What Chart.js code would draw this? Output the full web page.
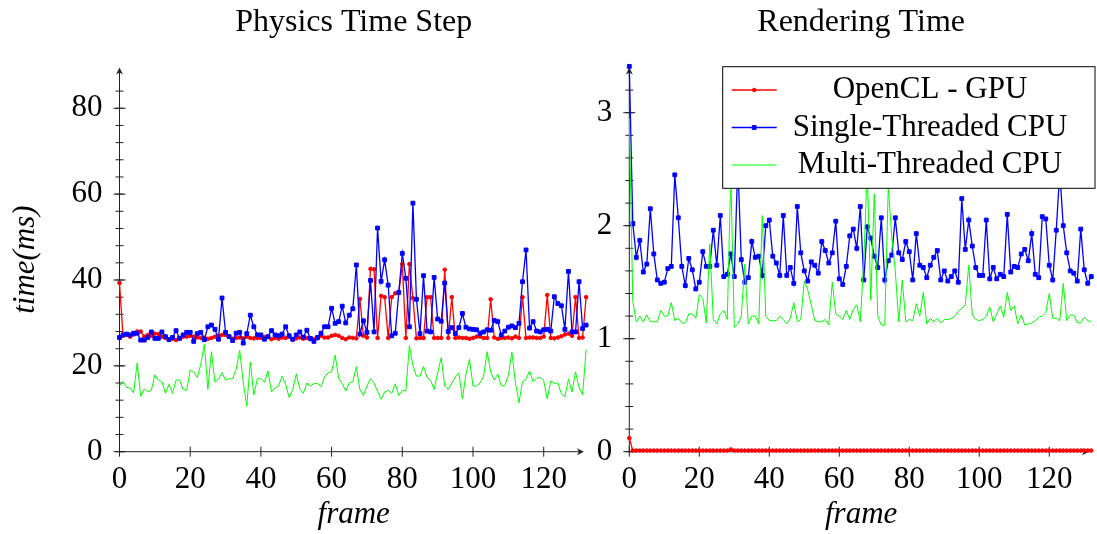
<!DOCTYPE html>
<html>
<head>
<meta charset="utf-8">
<script src="https://cdn.jsdelivr.net/npm/chart.js@4.4.0/dist/chart.umd.min.js"></script>
<style>
	html, body { margin: 0; padding: 0; background: #fff; overflow: hidden; }
	#wrap { position: relative; width: 1097px; height: 534px; overflow: hidden; }
	.box { position: absolute; top: 0; }
	#physicsBox { left: 0; }
	#renderBox { left: 590px; }
</style>
</head>
<body>
<div id="wrap">
	<div class="box" id="physicsBox"><canvas id="physicsChart" width="600" height="534"></canvas></div>
	<div class="box" id="renderBox"><canvas id="renderChart" width="508" height="534"></canvas></div>
</div>
<script>
"use strict";

// tick labels
const frameTicks = [0, 20, 40, 60, 80, 100, 120];
const physicsTicks = [0, 20, 40, 60, 80];
const renderTicks = [0, 1, 2, 3];

const seriesNames = ["OpenCL - GPU", "Single-Threaded CPU", "Multi-Threaded CPU"];

// Physics Time Step (ms), one value per frame 0..132
const physicsGpu = [
	39.3, 27.0, 27.2, 26.8, 27.3, 28.0, 28.0, 26.8, 27.2, 27.0, 27.5, 27.4, 26.8, 26.5, 26.2, 26.3, 26.0, 26.5, 26.8, 26.8,
	27.0, 26.8, 26.6, 26.5, 26.6, 26.3, 26.5, 26.8, 27.0, 27.2, 27.2, 26.8, 26.3, 26.5, 26.6, 26.4, 26.8, 26.5, 26.4, 26.5,
	26.5, 26.7, 26.8, 26.2, 26.5, 26.3, 26.6, 26.5, 26.8, 26.1, 26.4, 26.6, 26.3, 26.5, 26.2, 26.2, 26.4, 27.0, 26.6, 26.6,
	27.0, 27.2, 27.0, 26.5, 26.2, 26.6, 26.5, 26.4, 35.6, 27.0, 26.6, 42.6, 42.5, 26.5, 36.3, 36.0, 26.5, 36.0, 36.9, 37.0,
	43.7, 26.5, 43.7, 35.8, 26.4, 26.5, 26.5, 36.0, 36.0, 26.5, 26.5, 26.5, 42.4, 26.5, 36.0, 26.5, 26.6, 26.5, 26.5, 26.3,
	26.5, 26.8, 26.8, 26.5, 26.5, 35.5, 26.6, 26.3, 26.5, 26.5, 26.6, 26.4, 26.8, 26.5, 36.0, 26.5, 26.6, 26.6, 26.5, 26.5,
	26.8, 36.5, 26.5, 26.4, 26.6, 26.9, 27.3, 27.5, 27.0, 36.0, 26.5, 26.6, 36.0
];
const physicsSingle = [
	26.6, 27.2, 27.4, 27.2, 27.6, 27.6, 26.0, 26.0, 26.6, 27.9, 26.4, 26.4, 27.9, 26.8, 26.1, 26.6, 28.2, 26.4, 27.2, 27.8,
	27.8, 25.7, 27.5, 27.8, 26.1, 29.1, 29.5, 28.5, 26.2, 35.8, 27.8, 26.8, 25.9, 27.6, 27.8, 25.3, 27.5, 31.8, 29.1, 27.2,
	27.2, 26.2, 26.8, 28.2, 27.2, 27.0, 27.4, 29.1, 27.0, 26.2, 27.2, 27.9, 26.7, 28.3, 26.4, 25.7, 26.6, 27.6, 29.1, 29.1,
	33.4, 29.9, 30.3, 33.9, 30.0, 31.8, 33.3, 43.5, 27.4, 30.5, 27.8, 39.9, 27.9, 52.1, 39.7, 44.7, 38.8, 27.0, 27.6, 37.1,
	46.2, 40.4, 29.1, 57.9, 35.5, 27.5, 41.0, 28.1, 27.9, 40.6, 30.9, 30.4, 39.3, 28.0, 28.9, 27.5, 28.9, 32.2, 29.0, 28.6,
	28.5, 28.4, 27.6, 27.9, 28.4, 28.3, 30.6, 30.3, 27.2, 28.1, 29.0, 29.3, 28.9, 29.9, 39.6, 47.0, 28.8, 30.3, 28.1, 27.9,
	28.4, 28.5, 28.1, 36.1, 34.5, 34.0, 28.5, 42.0, 27.9, 27.9, 39.6, 28.7, 29.5
];
const physicsMulti = [
	15.3, 16.4, 15.0, 14.8, 13.7, 20.7, 12.9, 14.6, 14.0, 14.3, 17.9, 16.7, 16.3, 13.6, 15.7, 13.6, 16.7, 16.7, 14.5, 14.3,
	19.0, 18.6, 17.3, 20.4, 25.0, 14.5, 23.3, 16.2, 16.9, 18.4, 16.7, 17.0, 17.0, 19.2, 23.6, 16.2, 10.6, 20.9, 13.2, 17.0,
	17.0, 16.2, 18.8, 13.9, 14.9, 15.3, 17.6, 15.7, 12.6, 14.5, 18.1, 14.6, 13.6, 16.0, 15.3, 15.9, 15.9, 15.1, 17.4, 18.4,
	18.6, 22.5, 17.1, 15.9, 14.1, 16.0, 16.3, 19.8, 14.5, 13.1, 15.3, 17.0, 16.0, 14.1, 12.2, 13.9, 14.3, 13.6, 15.8, 13.1,
	14.3, 14.1, 24.7, 20.1, 17.6, 17.6, 19.9, 17.3, 16.6, 14.5, 18.4, 21.9, 15.3, 14.5, 16.0, 17.4, 18.4, 12.3, 18.1, 21.5,
	15.3, 15.3, 16.0, 17.6, 23.3, 18.6, 16.7, 18.1, 15.3, 15.4, 17.8, 23.2, 16.0, 11.4, 16.3, 16.9, 18.8, 16.3, 17.1, 17.3,
	16.5, 12.3, 16.5, 15.9, 16.0, 13.5, 12.8, 16.9, 13.9, 18.6, 14.9, 13.3, 23.8
];

// Rendering Time (ms), one value per frame 0..132
const renderGpu = [
	0.12, 0.01, 0.01, 0.01, 0.01, 0.01, 0.01, 0.01, 0.01, 0.01, 0.01, 0.01, 0.01, 0.01, 0.01, 0.01, 0.01, 0.01, 0.01, 0.01,
	0.01, 0.01, 0.01, 0.01, 0.01, 0.01, 0.01, 0.01, 0.01, 0.02, 0.01, 0.01, 0.01, 0.01, 0.01, 0.01, 0.01, 0.01, 0.01, 0.01,
	0.01, 0.01, 0.01, 0.01, 0.01, 0.01, 0.01, 0.01, 0.01, 0.01, 0.01, 0.01, 0.01, 0.01, 0.01, 0.01, 0.01, 0.01, 0.01, 0.01,
	0.01, 0.01, 0.01, 0.01, 0.01, 0.01, 0.01, 0.01, 0.01, 0.01, 0.01, 0.01, 0.01, 0.01, 0.01, 0.01, 0.01, 0.01, 0.01, 0.01,
	0.01, 0.01, 0.01, 0.01, 0.01, 0.01, 0.01, 0.01, 0.01, 0.01, 0.01, 0.01, 0.01, 0.01, 0.01, 0.01, 0.01, 0.01, 0.01, 0.01,
	0.01, 0.01, 0.01, 0.01, 0.01, 0.01, 0.01, 0.01, 0.01, 0.01, 0.01, 0.01, 0.01, 0.01, 0.01, 0.01, 0.01, 0.01, 0.01, 0.01,
	0.01, 0.01, 0.01, 0.01, 0.01, 0.01, 0.01, 0.01, 0.01, 0.01, 0.01, 0.01, 0.01
];
const renderSingle = [
	3.41, 2.02, 1.72, 1.87, 1.59, 1.66, 2.15, 1.75, 1.52, 1.49, 1.50, 1.62, 1.64, 2.45, 2.07, 1.64, 1.47, 1.71, 1.61, 1.44,
	1.50, 1.77, 1.64, 1.64, 1.96, 1.65, 2.09, 1.55, 1.57, 1.75, 1.55, 2.55, 1.70, 1.50, 1.54, 1.86, 1.72, 1.73, 1.56, 2.00,
	2.05, 1.73, 1.67, 1.56, 2.09, 1.56, 1.63, 1.49, 2.17, 1.76, 1.60, 1.51, 1.68, 1.65, 1.58, 1.86, 1.78, 1.67, 1.76, 2.04,
	1.53, 1.48, 1.64, 1.91, 1.97, 1.80, 2.17, 1.52, 1.99, 1.89, 1.73, 1.63, 2.07, 1.52, 1.69, 1.74, 2.07, 1.76, 1.70, 1.86,
	1.77, 1.52, 1.93, 1.65, 1.63, 1.54, 1.65, 1.72, 1.78, 1.52, 1.60, 1.51, 1.55, 1.60, 1.50, 2.24, 1.79, 2.05, 1.82, 1.63,
	1.56, 1.56, 2.05, 1.53, 1.63, 1.53, 1.57, 1.55, 2.10, 1.59, 1.64, 1.63, 1.75, 1.79, 1.69, 1.93, 1.57, 1.54, 2.08, 2.06,
	1.65, 1.52, 1.96, 2.48, 2.00, 1.76, 1.60, 1.58, 1.51, 1.97, 1.61, 1.49, 1.55
];
const renderMulti = [
	2.95, 1.33, 1.15, 1.20, 1.15, 1.21, 1.15, 1.15, 1.15, 1.25, 1.20, 1.20, 1.32, 1.16, 1.18, 1.14, 1.14, 1.22, 1.22, 1.18,
	1.39, 1.36, 1.14, 1.84, 1.17, 1.13, 1.22, 1.25, 1.17, 2.45, 1.10, 1.13, 1.20, 1.66, 1.13, 1.20, 1.20, 1.13, 2.09, 1.20,
	1.16, 1.16, 1.16, 1.20, 1.17, 1.13, 1.18, 1.32, 1.15, 1.17, 1.51, 1.43, 1.30, 1.16, 1.15, 1.15, 1.17, 1.12, 1.50, 1.22,
	1.20, 1.17, 1.25, 1.17, 1.26, 1.30, 1.15, 1.69, 2.50, 1.34, 2.28, 1.20, 1.12, 1.12, 2.35, 1.90, 1.60, 1.15, 1.52, 1.15,
	1.17, 1.16, 1.31, 1.20, 1.41, 1.13, 1.18, 1.15, 1.18, 1.14, 1.17, 1.17, 1.18, 1.20, 1.24, 1.27, 1.30, 1.65, 1.21, 1.17,
	1.16, 1.17, 1.20, 1.28, 1.15, 1.22, 1.29, 1.19, 1.41, 1.25, 1.29, 1.13, 1.21, 1.12, 1.13, 1.14, 1.16, 1.19, 1.20, 1.23,
	1.40, 1.18, 1.18, 1.16, 1.49, 1.16, 1.21, 1.21, 1.14, 1.14, 1.19, 1.16, 1.15
];

const FONT = '"Liberation Serif", "Times New Roman", serif';
const colors = ["#ff0000", "#0000ff", "#00ff00"];

function toPoints(list) {
	return list.map((v, i) => ({ x: i, y: v }));
}

function drawArrow(ctx, px, py, angle) {
	ctx.save();
	ctx.translate(px, py);
	ctx.rotate(angle);
	ctx.beginPath();
	ctx.moveTo(0, 0);
	ctx.lineTo(-7, -3.5);
	ctx.lineTo(-5, 0);
	ctx.lineTo(-7, 3.5);
	ctx.closePath();
	ctx.fill();
	ctx.restore();
}

// axis lines with arrows and centred tick marks, like pgfplots "axis lines=left"
const axisLines = {
	id: 'axisLines',
	beforeDatasetsDraw(chart, args, opts) {
		const { ctx, chartArea: area, scales: { x, y } } = chart;
		const x0 = x.getPixelForValue(0);
		const y0 = y.getPixelForValue(0);
		ctx.save();
		ctx.strokeStyle = '#222';
		ctx.fillStyle = '#222';
		ctx.lineWidth = 1;
		ctx.beginPath();
		for (let i = 0; i * opts.minorStep <= opts.minorMax + 1e-9; i++) {
			const py = y.getPixelForValue(i * opts.minorStep);
			ctx.moveTo(x0 - 4, py);
			ctx.lineTo(x0 + 4, py);
		}
		opts.majorTicks.forEach(v => {
			const py = y.getPixelForValue(v);
			ctx.moveTo(x0 - 6, py);
			ctx.lineTo(x0 + 6, py);
		});
		frameTicks.forEach(v => {
			const px = x.getPixelForValue(v);
			ctx.moveTo(px, y0 - 5);
			ctx.lineTo(px, y0 + 5);
		});
		ctx.moveTo(x0, y0);
		ctx.lineTo(x0, area.top + 3);
		ctx.moveTo(x0, y0);
		ctx.lineTo(area.right - 7, y0);
		ctx.stroke();
		drawArrow(ctx, x0, area.top, -Math.PI / 2);
		drawArrow(ctx, area.right - 4, y0, 0);
		ctx.restore();
	}
};

// boxed legend drawn over the plot with a white fill
const boxLegend = {
	id: 'boxLegend',
	afterDatasetsDraw(chart, args, opts) {
		if (!opts.show) return;
		const ctx = chart.ctx;
		const b = opts.box;
		ctx.save();
		ctx.fillStyle = '#fff';
		ctx.fillRect(b.left, b.top, b.width, b.height);
		ctx.strokeStyle = '#000';
		ctx.lineWidth = 1;
		ctx.strokeRect(b.left, b.top, b.width, b.height);
		chart.data.datasets.forEach((ds, i) => {
			const ry = opts.rows[i];
			ctx.strokeStyle = ds.borderColor;
			ctx.lineWidth = ds.borderWidth;
			ctx.beginPath();
			ctx.moveTo(b.left + 9, ry);
			ctx.lineTo(b.left + 54, ry);
			ctx.stroke();
			if (ds.pointRadius > 0) {
				ctx.fillStyle = ds.borderColor;
				ctx.lineWidth = ds.pointBorderWidth;
				Chart.helpers.drawPoint(ctx, {
					pointStyle: ds.pointStyle,
					radius: ds.pointRadius,
					borderWidth: ds.pointBorderWidth,
					rotation: 0
				}, b.left + 31.5, ry);
			}
			ctx.fillStyle = '#000';
			ctx.font = '31px ' + FONT;
			ctx.textAlign = 'center';
			ctx.textBaseline = 'middle';
			ctx.fillText(ds.label, opts.textX, ry);
		});
		ctx.restore();
	}
};

function buildChart(canvasId, setup) {
	const ctx = document.getElementById(canvasId).getContext('2d');

	const datasets = setup.series.map((values, i) => ({
		label: seriesNames[i],
		data: toPoints(values),
		borderColor: colors[i],
		backgroundColor: colors[i],
		borderWidth: i === 2 ? 1 : 1.3,
		pointStyle: ['circle', 'rect', 'circle'][i],
		pointRadius: [1.8, 2.7, 0][i],
		pointBorderWidth: 1,
		pointBackgroundColor: colors[i],
		pointBorderColor: colors[i],
		order: 3 - i,
		clip: false,
		tension: 0
	}));

	return new Chart(ctx, {
		type: 'line',
		data: { datasets },
		plugins: [axisLines, boxLegend],
		options: {
			responsive: false,
			animation: false,
			devicePixelRatio: 1,
			events: [],
			layout: { padding: { left: 0, right: setup.padRight, top: 0, bottom: 0 } },
			plugins: {
				legend: { display: false },
				tooltip: { enabled: false },
				title: {
					display: true,
					text: setup.title,
					fullSize: false,
					color: '#000',
					font: { family: FONT, size: 32, weight: 'normal' },
					padding: { top: 3.5, bottom: 25.6 }
				},
				axisLines: {
					majorTicks: setup.yTicks,
					minorStep: setup.minorStep,
					minorMax: setup.minorMax
				},
				boxLegend: {
					show: setup.legend,
					box: { left: 132.7, top: 66.7, width: 372.3, height: 121.6 },
					rows: [90, 127.5, 165],
					textX: 340
				}
			},
			scales: {
				x: {
					type: 'linear',
					min: 0,
					max: 132.5,
					afterBuildTicks: (s) => { s.ticks = frameTicks.map(v => ({ value: v })); },
					afterFit: (s) => { s.height = 82.3; },
					grid: { display: false, drawTicks: false },
					border: { display: false },
					ticks: { color: '#000', font: { family: FONT, size: 31 }, padding: 9.7, maxRotation: 0, autoSkip: false },
					title: {
						display: true,
						text: 'frame',
						color: '#000',
						font: { family: FONT, size: 31, style: 'italic' },
						padding: { top: 0, bottom: 0.5 }
					}
				},
				y: {
					type: 'linear',
					min: 0,
					max: setup.yMax,
					afterBuildTicks: (s) => { s.ticks = setup.yTicks.map(v => ({ value: v })); },
					afterFit: (s) => { s.width = setup.axisLeft; },
					grid: { display: false, drawTicks: false },
					border: { display: false },
					ticks: { color: '#000', font: { family: FONT, size: 31 }, padding: 17, autoSkip: false },
					title: {
						display: setup.yTitle !== '',
						text: setup.yTitle,
						color: '#000',
						font: { family: FONT, size: 31, style: 'italic' },
						padding: { top: 7, bottom: 0 }
					}
				}
			}
		}
	});
}

function init() {
	buildChart('physicsChart', {
		title: 'Physics Time Step',
		series: [physicsGpu, physicsSingle, physicsMulti],
		yMax: 89.5,
		yTicks: physicsTicks,
		minorStep: 4,
		minorMax: 84,
		yTitle: 'time(ms)',
		axisLeft: 119.5,
		padRight: 12.1,
		legend: false
	});

	buildChart('renderChart', {
		title: 'Rendering Time',
		series: [renderGpu, renderSingle, renderMulti],
		yMax: 3.4,
		yTicks: renderTicks,
		minorStep: 0.2,
		minorMax: 3.2,
		yTitle: '',
		axisLeft: 39.3,
		padRight: 0.6,
		legend: true
	});
}

document.addEventListener("DOMContentLoaded", init);
</script>
</body>
</html>
